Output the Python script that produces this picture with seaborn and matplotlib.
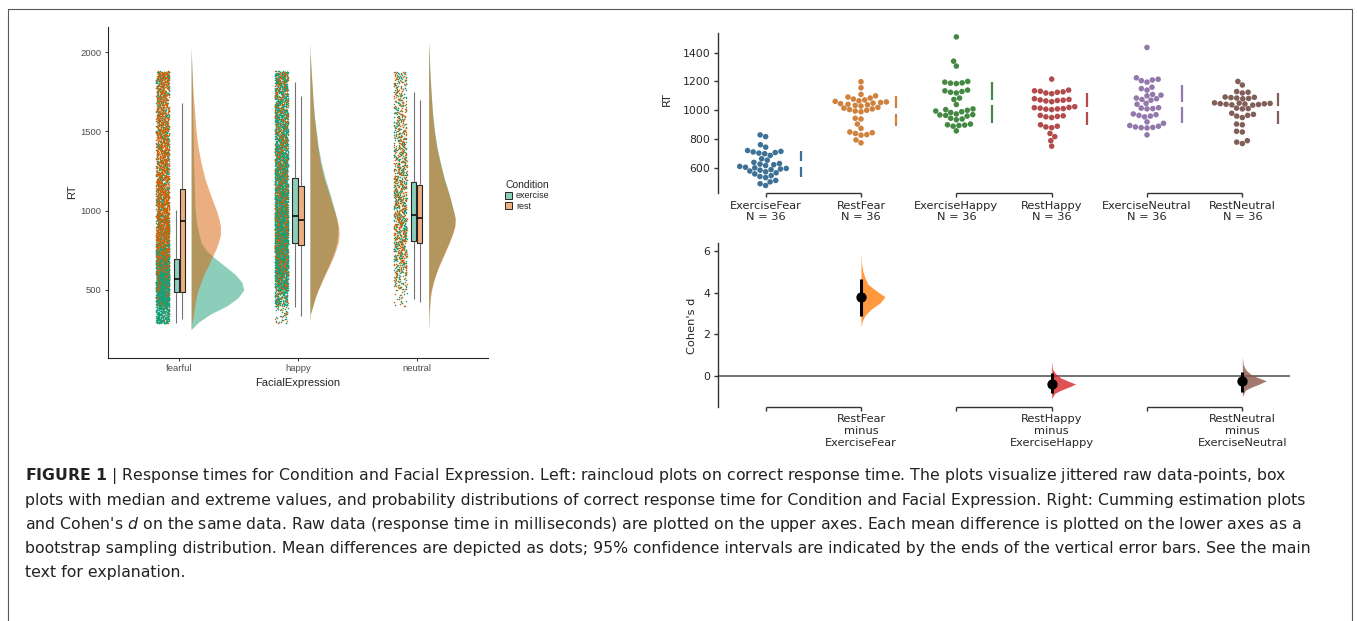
import numpy as np
import pandas as pd
import seaborn as sns
import matplotlib.pyplot as plt
from matplotlib.patches import Patch, Rectangle

sns.set_style("ticks")
plt.rcParams['font.family'] = ['DejaVu Sans']
plt.rcParams['mathtext.fontset'] = 'custom'
plt.rcParams['mathtext.rm'] = 'DejaVu Sans'
plt.rcParams['mathtext.it'] = 'DejaVu Sans:italic'
plt.rcParams['mathtext.bf'] = 'DejaVu Sans:bold'

# %% Data: left panel (raincloud)
expressions = ['fearful', 'happy', 'neutral']
conditions = ['exercise', 'rest']

# trials per RT bin
rt_edges = [290, 400, 500, 600, 700, 800, 900, 1000, 1100, 1200, 1300, 1400, 1500, 1600, 1700, 1800, 1880]
fear_ex_counts = [250, 500, 600, 450, 300, 200, 150, 120, 110, 105, 100, 100, 98, 96, 95, 95]
fear_rest_counts = [5, 15, 30, 60, 100, 140, 140, 130, 120, 115, 110, 105, 100, 95, 92, 90]
happy_ex_counts = [30, 150, 300, 400, 450, 450, 420, 380, 330, 290, 250, 220, 200, 180, 170, 160]
happy_rest_counts = [15, 25, 35, 40, 40, 40, 40, 40, 40, 40, 40, 40, 40, 40, 40, 40]
neutral_ex_counts = [0, 12, 32, 55, 70, 75, 75, 70, 65, 58, 52, 46, 42, 38, 34, 30]
neutral_rest_counts = [0, 9, 24, 38, 46, 50, 50, 47, 44, 40, 37, 34, 31, 28, 25, 23]

# box plots: whisker low, Q1, median, Q3, whisker high
fear_ex_box = [294, 485, 567, 695, 1004]
fear_rest_box = [319, 485, 937, 1135, 1677]
happy_ex_box = [395, 798, 968, 1204, 1813]
happy_rest_box = [336, 784, 941, 1158, 1723]
neutral_ex_box = [445, 809, 973, 1183, 1747]
neutral_rest_box = [426, 798, 952, 1162, 1698]

# half-violin density (cloud) read at these RT values
cloud_rt = [250, 300, 350, 400, 450, 500, 550, 600, 650, 700, 750, 800, 850, 900, 950, 1000,
            1100, 1200, 1300, 1400, 1500, 1600, 1700, 1800, 1900, 2000, 2060]
fear_ex_cloud = [0, 8, 20, 36, 47, 53, 51, 44, 34, 24, 15, 10, 8, 6, 5, 4,
                 3.5, 3, 2.5, 2.3, 2, 1.8, 1.5, 1.2, 0.8, 0.2, 0]
fear_rest_cloud = [0, 1, 2.5, 3.5, 5, 7, 10, 13, 17, 20.5, 24.5, 27.5, 29.5, 29.5, 28, 25.5,
                   19.5, 14, 10, 7, 5, 3.8, 2.5, 1.5, 0.7, 0, 0]
happy_ex_cloud = [0, 0, 0.5, 3, 5, 8, 11.5, 15, 18.5, 22, 25, 27, 28, 28, 27, 25,
                  20.5, 15.5, 11.5, 8.5, 6.5, 4.5, 3.2, 2.2, 1.2, 0.3, 0]
happy_rest_cloud = [0, 0, 0.5, 3, 5.5, 8.5, 12, 15.5, 19.5, 23, 26, 28.5, 29.5, 29, 27, 24.5,
                    19.5, 14.5, 10.5, 8, 6, 4.2, 3, 2, 1, 0.2, 0]
neutral_ex_cloud = [0, 0.3, 0.5, 1, 1.5, 2.5, 4.5, 7, 10, 13.5, 17, 20.5, 23.5, 26, 26.5, 25,
                    21, 16, 12, 8.5, 6, 4.2, 3, 2, 1.2, 0.6, 0]
neutral_rest_cloud = [0, 0.3, 0.5, 1.1, 1.8, 3, 5, 7.5, 10.5, 14, 17.5, 21, 24, 26.5, 27, 25,
                      20.5, 15.5, 11.5, 8, 5.7, 4, 2.8, 1.8, 1, 0.5, 0]

# %% Data: right panel (estimation plot)
groups = ['ExerciseFear', 'RestFear', 'ExerciseHappy', 'RestHappy', 'ExerciseNeutral', 'RestNeutral']
exercise_fear = [830, 818, 762, 745, 722, 716, 712, 708, 704, 700, 688, 665, 655, 640, 632, 628, 624, 618,
                 612, 606, 602, 598, 594, 590, 586, 580, 575, 568, 560, 548, 542, 535, 515, 505, 492, 480]
rest_fear = [1198, 1156, 1110, 1100, 1092, 1085, 1078, 1072, 1066, 1062, 1058, 1054, 1050, 1046, 1042, 1038,
             1034, 1030, 1020, 1015, 1010, 1005, 1000, 995, 990, 945, 940, 905, 875, 850, 845, 840, 832,
             828, 795, 775]
exercise_happy = [1508, 1340, 1306, 1200, 1195, 1190, 1188, 1185, 1140, 1135, 1130, 1125, 1120, 1085, 1075,
                  1040, 1010, 1005, 1000, 995, 990, 985, 975, 970, 968, 965, 960, 945, 940, 935, 905, 900,
                  898, 895, 890, 858]
rest_happy = [1216, 1140, 1135, 1132, 1128, 1125, 1120, 1115, 1080, 1075, 1072, 1070, 1068, 1065, 1060, 1025,
              1020, 1018, 1015, 1012, 1010, 1008, 1005, 965, 962, 958, 955, 950, 900, 890, 885, 880, 840,
              818, 790, 752]
exercise_neutral = [1435, 1225, 1215, 1210, 1205, 1195, 1160, 1150, 1140, 1110, 1105, 1100, 1085, 1080, 1075,
                    1070, 1048, 1042, 1018, 1015, 1012, 1010, 975, 970, 965, 960, 955, 920, 910, 895, 890,
                    885, 882, 880, 878, 830]
rest_neutral = [1200, 1175, 1130, 1125, 1120, 1092, 1090, 1088, 1085, 1082, 1080, 1052, 1050, 1048, 1046, 1045,
                1044, 1042, 1040, 1038, 1036, 1015, 1012, 1010, 980, 972, 965, 960, 950, 905, 900, 855, 850,
                790, 780, 770]

effect_labels = ['RestFear\nminus\nExerciseFear', 'RestHappy\nminus\nExerciseHappy',
                 'RestNeutral\nminus\nExerciseNeutral']
cohens_d = [3.78, -0.40, -0.24]
ci_low = [2.87, -0.85, -0.77]
ci_high = [4.65, 0.12, 0.19]
# bootstrap distributions, read as widths at these d values
fear_d_grid = [6.0, 5.4, 5.0, 4.7, 4.4, 4.1, 3.8, 3.5, 3.2, 2.9, 2.6, 2.35]
fear_d_dens = [0, 0.5, 2, 4, 7, 15, 24, 19, 10, 4, 1, 0]
happy_d_grid = [0.7, 0.3, 0.1, -0.1, -0.25, -0.4, -0.55, -0.7, -0.85, -1.1]
happy_d_dens = [0, 1, 4, 9, 16, 24, 17, 9, 3, 0]
neutral_d_grid = [0.9, 0.5, 0.25, 0.05, -0.1, -0.24, -0.4, -0.55, -0.7, -1.0]
neutral_d_dens = [0, 1, 4, 9, 16, 24, 17, 9, 3, 0]

caption_lines = [
    r"$\bf{FIGURE\ 1}$ | Response times for Condition and Facial Expression. Left: raincloud plots on correct response time. The plots visualize jittered raw data-points, box",
    "plots with median and extreme values, and probability distributions of correct response time for Condition and Facial Expression. Right: Cumming estimation plots",
    r"and Cohen's $\it{d}$ on the same data. Raw data (response time in milliseconds) are plotted on the upper axes. Each mean difference is plotted on the lower axes as a",
    "bootstrap sampling distribution. Mean differences are depicted as dots; 95% confidence intervals are indicated by the ends of the vertical error bars. See the main",
    "text for explanation.",
]

# %% Tables
raw_counts = {('fearful', 'exercise'): fear_ex_counts, ('fearful', 'rest'): fear_rest_counts,
              ('happy', 'exercise'): happy_ex_counts, ('happy', 'rest'): happy_rest_counts,
              ('neutral', 'exercise'): neutral_ex_counts, ('neutral', 'rest'): neutral_rest_counts}
box_stats = {('fearful', 'exercise'): fear_ex_box, ('fearful', 'rest'): fear_rest_box,
             ('happy', 'exercise'): happy_ex_box, ('happy', 'rest'): happy_rest_box,
             ('neutral', 'exercise'): neutral_ex_box, ('neutral', 'rest'): neutral_rest_box}
clouds = {('fearful', 'exercise'): fear_ex_cloud, ('fearful', 'rest'): fear_rest_cloud,
          ('happy', 'exercise'): happy_ex_cloud, ('happy', 'rest'): happy_rest_cloud,
          ('neutral', 'exercise'): neutral_ex_cloud, ('neutral', 'rest'): neutral_rest_cloud}

STRIP_SHIFT = -0.14
CLOUD_SHIFT = 0.1
CLOUD_SCALE = 1 / 119.5
point_colors = {'exercise': '#1b9e77', 'rest': '#d95f02'}
box_fill = {'exercise': '#8dcebb', 'rest': '#ecaf80'}

raw_parts, box_parts = [], []
for pos, expr in enumerate(expressions):
    for cond in conditions:
        counts = raw_counts[(expr, cond)]
        rts = np.concatenate([np.linspace(lo, hi, n, endpoint=False)
                              for lo, hi, n in zip(rt_edges[:-1], rt_edges[1:], counts)])
        raw_parts.append(pd.DataFrame({'pos': pos + STRIP_SHIFT, 'RT': rts, 'Condition': cond}))
        box_parts.append(pd.DataFrame({'pos': pos, 'RT': box_stats[(expr, cond)], 'Condition': cond}))
raw_df = pd.concat(raw_parts, ignore_index=True)
box_df = pd.concat(box_parts, ignore_index=True)

swarm_values = [exercise_fear, rest_fear, exercise_happy, rest_happy, exercise_neutral, rest_neutral]
swarm_df = pd.concat([pd.DataFrame({'Group': g, 'RT': v}) for g, v in zip(groups, swarm_values)],
                     ignore_index=True)

# %% Figure
W, H = 1357, 621
fig = plt.figure(figsize=(W / 100, H / 100), dpi=100)


def px_axes(x0, y0, x1, y1):
    return fig.add_axes([x0 / W, 1 - y1 / H, (x1 - x0) / W, (y1 - y0) / H])


ax_rain = px_axes(108, 26.7, 488, 357.7)
ax_raw = px_axes(718, 33, 1290, 193)
ax_es = px_axes(718, 243.3, 1290, 406.7)

# --- raincloud: exercise points first, rest on top
for cond in conditions:
    sns.stripplot(data=raw_df[raw_df.Condition == cond], x='pos', y='RT', color=point_colors[cond],
                  native_scale=True, jitter=0.055, size=1.1, linewidth=0, ax=ax_rain)
sns.boxplot(data=box_df, x='pos', y='RT', hue='Condition', hue_order=conditions, palette=box_fill,
            native_scale=True, dodge=True, width=0.1, gap=0.1, whis=(0, 100), saturation=1,
            linecolor='0.15', linewidth=0.8, showcaps=False, showfliers=False,
            whiskerprops={'color': '0.45'}, medianprops={'color': 'black', 'linewidth': 1.1},
            legend=False, ax=ax_rain)
for pos, expr in enumerate(expressions):
    for cond in conditions:
        w = np.array(clouds[(expr, cond)]) * CLOUD_SCALE
        ax_rain.fill_betweenx(cloud_rt, pos + CLOUD_SHIFT, pos + CLOUD_SHIFT + w,
                              color=point_colors[cond], alpha=0.5, lw=0)

ax_rain.set_xlim(-0.6, 2.6)
ax_rain.set_ylim(73, 2160)
ax_rain.set_xticks(range(len(expressions)), expressions)
ax_rain.set_yticks([500, 1000, 1500, 2000])
ax_rain.tick_params(labelsize=6.8, labelcolor='#4d4d4d', length=2.5, width=0.7, color='0.2', pad=2)
for lab in ax_rain.get_xticklabels() + ax_rain.get_yticklabels():
    lab.set_family('Liberation Sans')
sns.despine(ax=ax_rain)
for side in ['left', 'bottom']:
    ax_rain.spines[side].set_color('0.15')
    ax_rain.spines[side].set_linewidth(0.8)
ax_rain.set_xlabel('FacialExpression', fontsize=8, family='Liberation Sans', va='center')
ax_rain.set_ylabel('RT', fontsize=8, family='Liberation Sans', va='center')
ax_rain.xaxis.set_label_coords(0.5, -25.3 / 331)
ax_rain.yaxis.set_label_coords(-36 / 380, 0.5)

handles = [Patch(facecolor=box_fill[c], edgecolor='0.15', lw=0.7, label=c) for c in conditions]
leg = ax_rain.legend(handles=handles, title='Condition', loc='upper left', frameon=False,
                     bbox_to_anchor=(497 / W, 1 - 172 / H), bbox_transform=fig.transFigure,
                     prop={'family': 'Liberation Sans', 'size': 6.5}, handlelength=0.8,
                     handleheight=0.8, handletextpad=0.4, labelspacing=0.15, alignment='left')
leg.get_title().set_fontfamily('Liberation Sans')
leg.get_title().set_fontsize(7.5)

# --- estimation plot: raw data
swarm_colors = sns.color_palette('tab10', 6, desat=0.6)
effect_colors = [sns.color_palette('tab10')[i] for i in (1, 3, 5)]
sns.swarmplot(data=swarm_df, x='Group', y='RT', hue='Group', order=groups, hue_order=groups,
              palette=swarm_colors, size=4.0, legend=False, ax=ax_raw)
GAP = 18
for i, vals in enumerate(swarm_values):
    m, s = np.mean(vals), np.std(vals, ddof=1)
    ax_raw.vlines([i + 0.37, i + 0.37], [m - s, m + GAP], [m - GAP, m + s],
                  color=swarm_colors[i], lw=1.6)
ax_raw.set_xlim(-0.5, 5.5)
ax_raw.set_ylim(428, 1535)
ax_raw.set_yticks([600, 800, 1000, 1200, 1400])
ax_raw.set_xticks(range(6), [f'{g}\nN = {len(v)}' for g, v in zip(groups, swarm_values)])
ax_raw.set_xlabel('')
ax_raw.set_ylabel('RT', fontsize=8.2, va='center')
ax_raw.yaxis.set_label_coords(-51 / 572, (193 - 99) / 160)

# --- estimation plot: effect sizes
es_grids = [fear_d_grid, happy_d_grid, neutral_d_grid]
es_dens = [fear_d_dens, happy_d_dens, neutral_d_dens]
es_pos = [1, 3, 5]
ax_es.axhline(0, color='0.3', lw=1.1, zorder=1)
for k, pos in enumerate(es_pos):
    ax_es.fill_betweenx(es_grids[k], pos, pos + np.array(es_dens[k]) / 95.3,
                        color=effect_colors[k], alpha=0.8, lw=0, zorder=2)
ax_es.vlines(es_pos, ci_low, ci_high, color='black', lw=2.2, zorder=3)
sns.scatterplot(x=es_pos, y=cohens_d, color='black', s=55, linewidth=0, zorder=4, ax=ax_es)
ax_es.set_xlim(-0.5, 5.5)
ax_es.set_ylim(-1.49, 6.37)
ax_es.set_yticks([0, 2, 4, 6])
ax_es.set_xticks(range(6), ['', effect_labels[0], '', effect_labels[1], '', effect_labels[2]])
ax_es.set_ylabel("Cohen's d", fontsize=8.2, va='center')
ax_es.yaxis.set_label_coords(-26 / 572, 0.497)

for ax in (ax_raw, ax_es):
    sns.despine(ax=ax, bottom=True)
    ax.spines['left'].set_color('0.2')
    ax.spines['left'].set_linewidth(1)
    ax.tick_params(labelsize=7.8, length=3, width=1, color='0.2', pad=2.5)
    ax.tick_params(axis='x', labelsize=8.2)
    ymin = ax.get_ylim()[0]
    for a, b in [(0, 1), (2, 3), (4, 5)]:
        ax.plot([a, b], [ymin, ymin], color='0.2', lw=1, clip_on=False, solid_capstyle='butt')
    for lab in ax.get_xticklabels():
        lab.set_linespacing(1.2)

# --- caption and frame
for i, line in enumerate(caption_lines):
    fig.text(25 / W, 1 - (476 + 24 * i) / H, line, fontsize=11.33, family='DejaVu Sans',
             color='#222222', va='center', ha='left')
fig.add_artist(Rectangle((8 / W, -0.02), (1352 - 8) / W, (621 - 9) / H + 0.02, transform=fig.transFigure,
                         fill=False, edgecolor='0.35', lw=0.8))

fig.savefig('out.png', dpi=100)
